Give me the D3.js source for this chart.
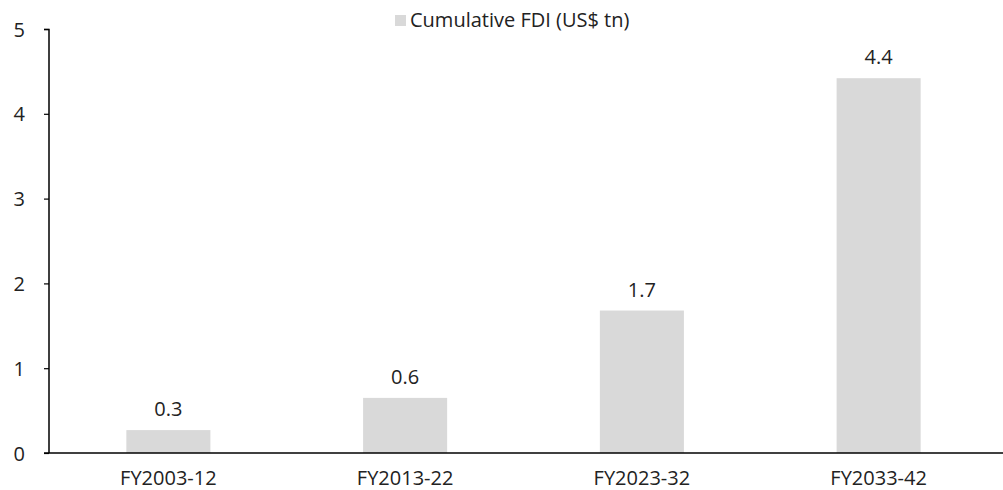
<!DOCTYPE html>
<html><head><meta charset="utf-8">
<script src="https://cdn.jsdelivr.net/npm/d3@7"></script>
<style>body{margin:0;background:#fff}svg{display:block}text{font-family:"Open Sans","Noto Sans",sans-serif;fill:#222}</style>
</head><body><svg id="c" width="1003" height="490"></svg>
<script>
const categories = ["FY2003-12","FY2013-22","FY2023-32","FY2033-42"];
const values = [0.27, 0.65, 1.68, 4.42];
const labels = ["0.3","0.6","1.7","4.4"];
const yTicks = [0,1,2,3,4,5];
const seriesName = "Cumulative FDI (US$ tn)";

const FONT = '"Open Sans","Noto Sans",sans-serif';
const svg = d3.select("#c");
const x = d3.scaleBand().domain(categories).range([50, 997]).paddingInner(0.645).paddingOuter(0.3225);
const y = d3.scaleLinear().domain([0,5]).range([453, 29]);

svg.selectAll("rect.bar").data(values).join("rect").attr("class","bar")
  .attr("x",(d,i)=>x(categories[i])).attr("width",x.bandwidth())
  .attr("y",d=>y(d)).attr("height",d=>y(0)-y(d)).attr("fill","#d9d9d9");

svg.selectAll("text.val").data(values).join("text").attr("class","val")
  .attr("x",(d,i)=>x(categories[i])+x.bandwidth()/2).attr("y",d=>y(d)-14)
  .attr("text-anchor","middle").attr("font-size",20).text((d,i)=>labels[i]);

const ya = svg.append("g").attr("transform","translate(49,0)")
  .call(d3.axisLeft(y).tickValues(yTicks).tickSize(5).tickPadding(19).tickFormat(d3.format("d")));
ya.select(".domain").attr("stroke","#000").attr("stroke-width",1.5).attr("d","M-5,29.5H0V453");
ya.selectAll(".tick line").attr("stroke","#000").attr("stroke-width",1.2);
ya.selectAll(".tick text").attr("font-size",20).attr("fill","#222").attr("dy","0.35em").style("font-family",FONT);

svg.append("line").attr("x1",44).attr("x2",1003).attr("y1",y(0)).attr("y2",y(0)).attr("stroke","#000").attr("stroke-width",1.5);

svg.selectAll("text.cat").data(categories).join("text").attr("class","cat")
  .attr("x",d=>x(d)+x.bandwidth()/2).attr("y",485).attr("text-anchor","middle").attr("font-size",20).text(d=>d);

svg.append("rect").attr("x",395).attr("y",15).attr("width",11).attr("height",11).attr("fill","#d9d9d9");
svg.append("text").attr("x",410).attr("y",27).attr("font-size",20).text(seriesName);
</script></body></html>
